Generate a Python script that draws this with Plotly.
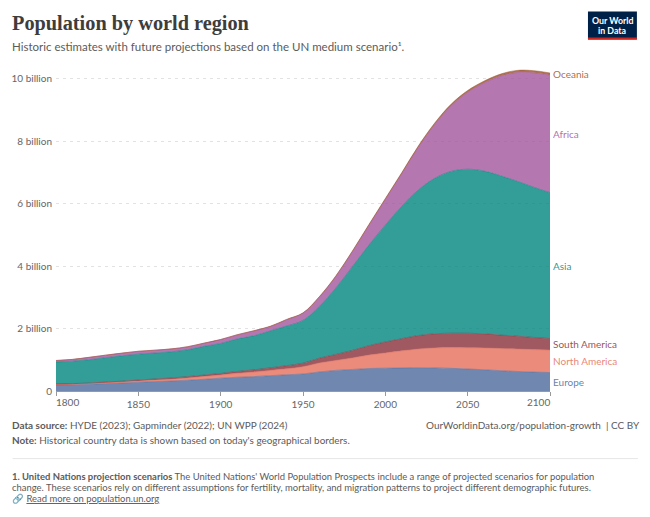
import plotly.graph_objects as go

W, H = 650, 517
ML, MR, MT, MB = 55.5, 100, 63.4, 126

years = [1800, 1810, 1820, 1830, 1840, 1850, 1860, 1870, 1880, 1890, 1900, 1910, 1920, 1930, 1940, 1950,
         1960, 1970, 1980, 1990, 2000, 2010, 2020, 2030, 2040, 2050, 2060, 2070, 2080, 2090, 2100]
europe = [0.19, 0.20, 0.215, 0.235, 0.255, 0.28, 0.30, 0.32, 0.345, 0.375, 0.41, 0.44, 0.46, 0.49, 0.52, 0.545,
          0.61, 0.66, 0.69, 0.72, 0.73, 0.735, 0.745, 0.74, 0.725, 0.705, 0.68, 0.65, 0.625, 0.605, 0.59]
north_america = [0.02, 0.02, 0.025, 0.03, 0.035, 0.04, 0.055, 0.06, 0.075, 0.09, 0.10, 0.125, 0.145, 0.17, 0.19, 0.235,
                 0.29, 0.32, 0.37, 0.43, 0.49, 0.55, 0.60, 0.64, 0.665, 0.68, 0.70, 0.71, 0.72, 0.72, 0.72]
south_america = [0.015, 0.015, 0.015, 0.02, 0.025, 0.03, 0.03, 0.035, 0.04, 0.045, 0.05, 0.06, 0.07, 0.08, 0.10, 0.11,
                 0.15, 0.19, 0.24, 0.30, 0.35, 0.39, 0.43, 0.45, 0.46, 0.465, 0.45, 0.43, 0.41, 0.39, 0.37]
asia = [0.70, 0.72, 0.745, 0.78, 0.81, 0.83, 0.83, 0.84, 0.86, 0.92, 0.96, 1.04, 1.09, 1.18, 1.27, 1.37,
        1.66, 2.13, 2.68, 3.22, 3.74, 4.24, 4.66, 4.98, 5.18, 5.25, 5.21, 5.10, 4.96, 4.81, 4.67]
africa = [0.05, 0.055, 0.075, 0.08, 0.085, 0.09, 0.09, 0.09, 0.095, 0.10, 0.125, 0.13, 0.155, 0.14, 0.20, 0.23,
          0.30, 0.37, 0.48, 0.63, 0.82, 1.04, 1.36, 1.72, 2.10, 2.46, 2.82, 3.19, 3.48, 3.66, 3.76]
oceania = [0.003, 0.003, 0.003, 0.003, 0.003, 0.003, 0.003, 0.004, 0.005, 0.005, 0.006, 0.008, 0.009, 0.011, 0.012, 0.013,
           0.016, 0.02, 0.023, 0.027, 0.031, 0.037, 0.044, 0.049, 0.054, 0.058, 0.062, 0.065, 0.068, 0.07, 0.07]

series = [
    ("Europe", europe, "#4C6A9C"),
    ("North America", north_america, "#E56E5A"),
    ("South America", south_america, "#883039"),
    ("Asia", asia, "#00847E"),
    ("Africa", africa, "#A2559C"),
    ("Oceania", oceania, "#9A5129"),
]
y_ticks = [0, 2, 4, 6, 8, 10]
y_labels = ["0", "2 billion", "4 billion", "6 billion", "8 billion", "10 billion"]
x_ticks = [1800, 1850, 1900, 1950, 2000, 2050, 2100]

def rgba(c, a):
    return f"rgba({int(c[1:3],16)},{int(c[3:5],16)},{int(c[5:7],16)},{a})"

def px(x):
    return (x - ML) / (W - ML - MR)

def py(y):
    return 1 - (y - MT) / (H - MT - MB)

fig = go.Figure()
ann = []
base = 0
for name, vals, col in series:
    fig.add_trace(go.Scatter(x=years, y=vals, name=name, mode="lines", stackgroup="one",
                             line=dict(color=col, width=0.5, shape="spline", smoothing=1.0),
                             fillcolor=rgba(col, 0.8), showlegend=False))
    mid = base + vals[-1] / 2
    base += vals[-1]
    ann.append(dict(x=2100, y=mid, xref="x", yref="y", text=name, showarrow=False, xanchor="left", xshift=1,
                    font=dict(family="Lato", size=10, color=rgba(col, 0.85))))

def text(x, y, s, size=10, color="#5b5b5b", anchor="left", family="Lato"):
    shift = {"left": -2.5, "right": 2.5, "center": 0}[anchor]
    ann.append(dict(x=px(x + shift), y=py(y), xref="paper", yref="paper", text=s, showarrow=False, xanchor=anchor,
                    yanchor="middle", align=anchor, font=dict(family=family, size=size, color=color)))

text(12, 23.5, "<b>Population by world region</b>", 20.3, "#3d3d3d", family="Liberation Serif")
text(12, 46.5, "Historic estimates with future projections based on the UN medium scenario¹.", 11.5, "#5b5b5b")
text(12, 424.5, "<b>Data source:</b> HYDE (2023); Gapminder (2022); UN WPP (2024)", 9.95)
text(12, 440, "<b>Note:</b> Historical country data is shown based on today's geographical borders.", 9.95)
text(640, 424.5, "OurWorldinData.org/population-growth  | CC BY", 9.95, anchor="right")
text(12, 476, "<b>1. United Nations projection scenarios</b> The United Nations' World Population Prospects include a range of projected scenarios for population", 9.45)
text(12, 487.5, "change. These scenarios rely on different assumptions for fertility, mortality, and migration patterns to project different demographic futures.", 9.45)
text(12, 499, "🔗 <u>Read more on population.un.org</u>", 9.45)
text(56, 401.5, "1800", 10, "#666666")
text(550, 401.5, "2100", 10, "#666666", anchor="right")
text(612.5, 20.5, "<b>Our World</b>", 8.8, "#ffffff", anchor="center")
text(612.5, 30.5, "<b>in Data</b>", 8.8, "#ffffff", anchor="center")

shapes = [
    dict(type="rect", xref="paper", yref="paper", x0=px(588), x1=px(637), y0=py(12), y1=py(40),
         fillcolor="#002147", line_width=0),
    dict(type="rect", xref="paper", yref="paper", x0=px(588), x1=px(637), y0=py(38), y1=py(40),
         fillcolor="#ce261e", line_width=0),
    dict(type="line", xref="paper", yref="paper", x0=px(12), x1=px(638), y0=py(458.5), y1=py(458.5),
         line=dict(color="#e7e7e7", width=1)),
]

fig.update_layout(
    width=W, height=H, margin=dict(l=ML, r=MR, t=MT, b=MB, pad=0),
    paper_bgcolor="white", plot_bgcolor="white", annotations=ann, shapes=shapes,
    font=dict(family="Lato", color="#666666"),
    xaxis=dict(range=[1800, 2100], tickmode="array", tickvals=x_ticks,
               ticktext=["" if v in (1800, 2100) else str(v) for v in x_ticks],
               ticks="outside", ticklen=4, tickcolor="#999999", showgrid=False, zeroline=False,
               showline=True, linecolor="#999999", linewidth=1, tickfont=dict(size=10, color="#666666")),
    yaxis=dict(range=[0, 10.5], tickmode="array", tickvals=y_ticks, ticktext=y_labels, ticks="",
               showgrid=True, gridcolor="#e2e2e2", griddash="3px,4px", gridwidth=1, zeroline=False, showline=False,
               ticklabelstandoff=3, tickfont=dict(size=10, color="#666666")),
)
fig.write_html("out.html", config={"displayModeBar": False},
               post_script="document.body.style.margin='0';document.documentElement.style.overflow='hidden';")
